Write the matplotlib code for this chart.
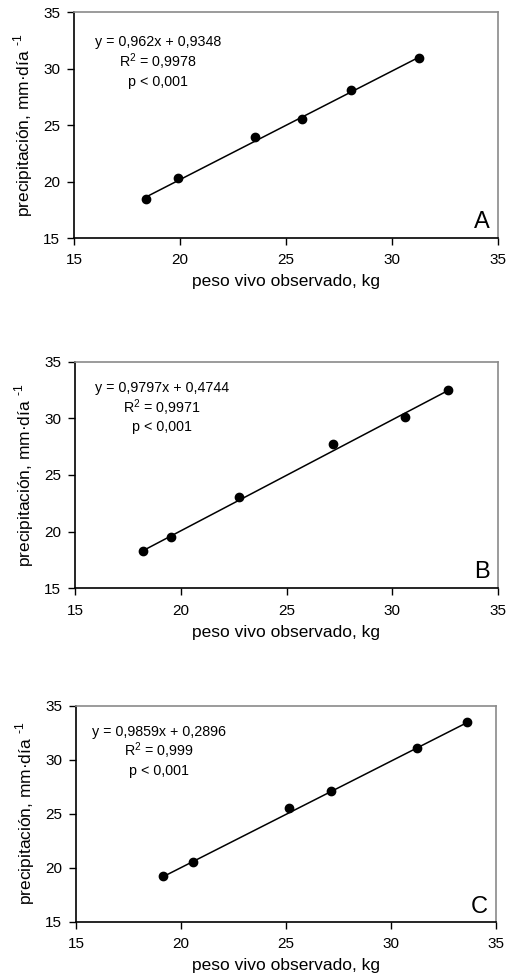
import matplotlib
matplotlib.use("Agg")
import matplotlib.pyplot as plt
import numpy as np

plt.rcParams['font.family'] = ['Liberation Sans', 'DejaVu Sans']
plt.rcParams['mathtext.fontset'] = 'custom'
plt.rcParams['mathtext.rm'] = 'Liberation Sans'
plt.rcParams['mathtext.sf'] = 'Liberation Sans'

# Data
obs_A = [18.4, 19.9, 23.55, 25.75, 28.05, 31.25]
pred_A = [18.45, 20.3, 23.93, 25.55, 28.15, 30.95]
slope_A, icpt_A = 0.962, 0.9348

obs_B = [18.2, 19.55, 22.75, 27.2, 30.6, 32.65]
pred_B = [18.3, 19.5, 23.08, 27.7, 30.15, 32.53]
slope_B, icpt_B = 0.9797, 0.4744

obs_C = [19.15, 20.55, 25.15, 27.15, 31.25, 33.6]
pred_C = [19.2, 20.52, 25.56, 27.07, 31.05, 33.5]
slope_C, icpt_C = 0.9859, 0.2896

eq_texts = [
    ["y = 0,962x + 0,9348", "R$^{2}$ = 0,9978", "p < 0,001"],
    ["y = 0,9797x + 0,4744", "R$^{2}$ = 0,9971", "p < 0,001"],
    ["y = 0,9859x + 0,2896", "R$^{2}$ = 0,999", "p < 0,001"],
]
panel_letters = ["A", "B", "C"]
ticks = [15, 20, 25, 30, 35]
xlabel = "peso vivo observado, kg"
ylabel = "precipitación, mm·día $^{\\text{-1}}$"

fig = plt.figure(figsize=(5.14, 9.76), dpi=100)

rects = [
    [74/514, 1 - 238/976, 424/514, 225.7/976],
    [75/514, 1 - 588.3/976, 423/514, 226.7/976],
    [76/514, 1 - 921.7/976, 420/514, 216/976],
]
text_ys = [
    [0.868, 0.780, 0.691],
    [0.882, 0.798, 0.710],
    [0.880, 0.792, 0.699],
]
text_x = [0.198, 0.206, 0.198]

datasets = [(obs_A, pred_A, slope_A, icpt_A),
            (obs_B, pred_B, slope_B, icpt_B),
            (obs_C, pred_C, slope_C, icpt_C)]

for i, (obs, pred, m, b) in enumerate(datasets):
    ax = fig.add_axes(rects[i])
    xs = np.array([min(obs), max(obs)])
    ax.plot(xs, m * xs + b, color='black', lw=1.1, zorder=2)
    ax.plot(obs, pred, 'o', color='black', ms=6, zorder=3)
    ax.set_xlim(15, 35)
    ax.set_ylim(15, 35)
    ax.set_xticks(ticks)
    ax.set_yticks(ticks)
    ax.tick_params(direction='out', length=5, width=1, labelsize=11, colors='black')
    ax.tick_params(axis='x', pad=6)
    ax.tick_params(axis='y', pad=5)
    for s in ['left', 'bottom']:
        ax.spines[s].set_color('black')
        ax.spines[s].set_linewidth(1.2)
    for s in ['top', 'right']:
        ax.spines[s].set_color('#8a8a8a')
        ax.spines[s].set_linewidth(1.2)
    ax.set_xlabel(xlabel, fontsize=12.5, labelpad=5)
    ax.set_ylabel(ylabel, fontsize=12.5, labelpad=6)
    for t, y in zip(eq_texts[i], text_ys[i]):
        ax.text(text_x[i], y, t, transform=ax.transAxes, ha='center', va='center', fontsize=10.3)
    ax.text(0.98, 0.07, panel_letters[i], transform=ax.transAxes, ha='right', va='center', fontsize=17)

fig.savefig("out.png", dpi=100, facecolor='white')
